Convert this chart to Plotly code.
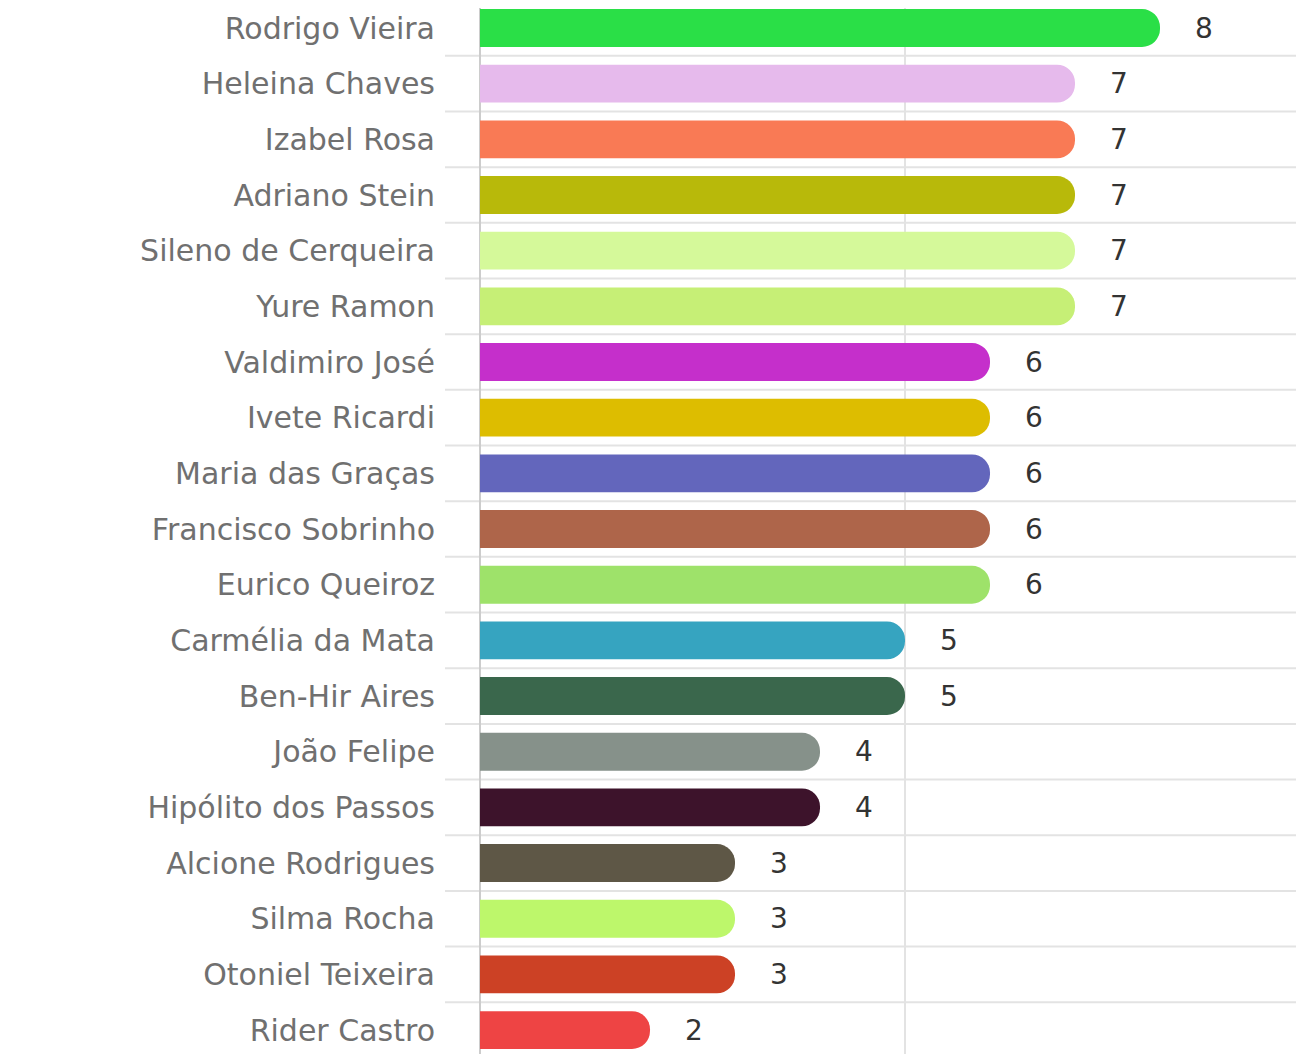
import plotly.graph_objects as go

names = ["Rodrigo Vieira", "Heleina Chaves", "Izabel Rosa", "Adriano Stein",
         "Sileno de Cerqueira", "Yure Ramon", "Valdimiro José", "Ivete Ricardi",
         "Maria das Graças", "Francisco Sobrinho", "Eurico Queiroz",
         "Carmélia da Mata", "Ben-Hir Aires", "João Felipe", "Hipólito dos Passos",
         "Alcione Rodrigues", "Silma Rocha", "Otoniel Teixeira", "Rider Castro"]
values = [8, 7, 7, 7, 7, 7, 6, 6, 6, 6, 6, 5, 5, 4, 4, 3, 3, 3, 2]
colors = ["#2ADF47", "#E6BAEC", "#F97A55", "#B8B90A", "#D5F99A", "#C6EF76",
          "#C52FCB", "#DDBD00", "#6366BC", "#AE654A", "#9EE26A", "#36A4C0",
          "#3A674C", "#86918A", "#3D132B", "#5E5746", "#BDF76B", "#CC4125",
          "#EE4444"]

W, H = 1296, 1046
ML = 472
PW = W - ML

fig = go.Figure()
fig.add_trace(go.Bar(
    x=values, y=names, orientation="h",
    marker=dict(color=colors, line=dict(width=0), cornerradius=19),
    hoverinfo="x+y", showlegend=False,
))

annotations = []
for n, v in zip(names, values):
    annotations.append(dict(
        x=v, y=n, xref="x", yref="y", text=str(v), showarrow=False,
        xanchor="left", xshift=33,
        font=dict(family="DejaVu Sans", size=28, color="#333333"),
    ))

shapes = []
for i in range(len(names)):
    shapes.append(dict(
        type="line", xref="paper", yref="y",
        x0=-35 / PW, x1=1.0, y0=i + 0.5, y1=i + 0.5,
        line=dict(color="#E3E3E3", width=2), layer="below",
    ))

row = 55.67
fig.update_layout(
    width=W, height=H,
    margin=dict(l=ML, r=0, t=0, b=0),
    paper_bgcolor="white", plot_bgcolor="white",
    bargap=0.32,
    annotations=annotations,
    shapes=shapes,
    xaxis=dict(range=[0, PW / 85.0], dtick=5, showgrid=True, gridcolor="#E3E3E3",
               gridwidth=2, zeroline=True, zerolinecolor="#CCCCCC",
               zerolinewidth=2, showticklabels=False, fixedrange=True),
    yaxis=dict(range=[(H - 20) / row, -20 / row], showgrid=False, zeroline=False,
               ticks="", ticklabelstandoff=44,
               tickfont=dict(family="DejaVu Sans", size=30, color="#707070")),
)

fig.write_html("out.html")
